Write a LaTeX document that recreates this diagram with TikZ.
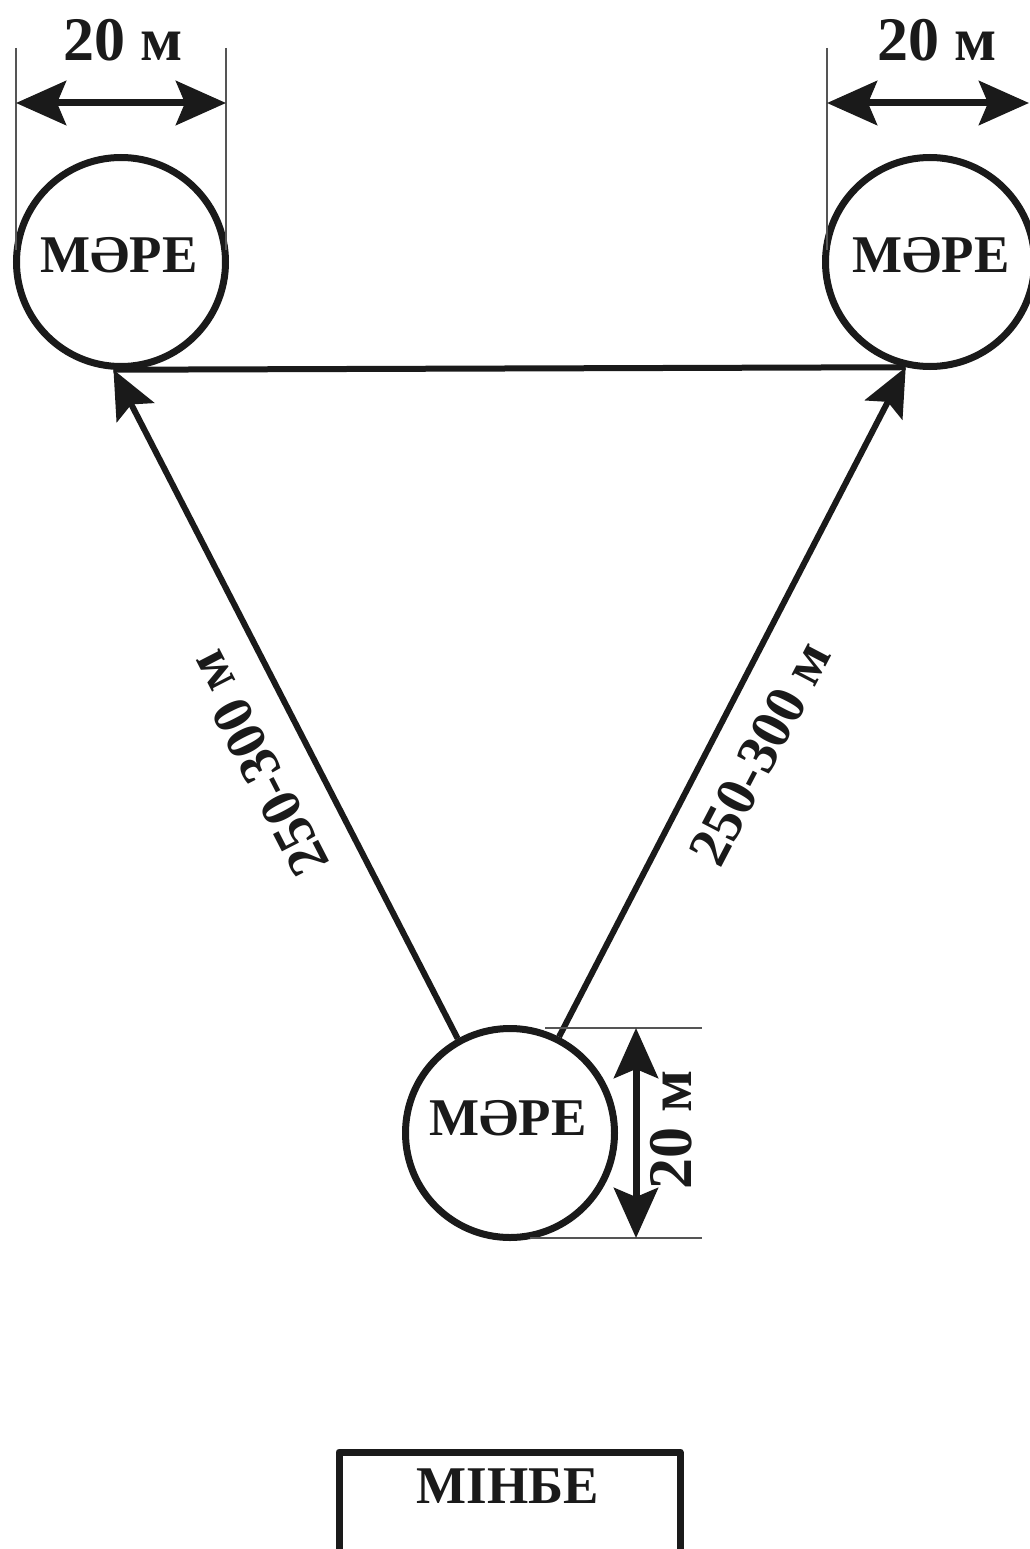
\documentclass[tikz,border=0pt]{standalone}
\usepackage{fontspec}
\setmainfont{Liberation Serif}
\usetikzlibrary{arrows.meta}
\definecolor{ink}{HTML}{1A1A1A}
\definecolor{thin}{HTML}{555555}
\tikzset{
  finishcircle/.style={circle, draw=ink, line width=7pt, minimum size=209pt, inner sep=0pt},
  circtext/.style={font=\bfseries\fontsize{53}{53}\selectfont, text=ink, inner sep=0pt},
  dimtext/.style={font=\bfseries\fontsize{62}{62}\selectfont, text=ink, inner sep=0pt},
  disttext/.style={font=\bfseries\fontsize{57}{57}\selectfont, text=ink, inner sep=0pt},
  extline/.style={draw=thin, line width=1.4pt},
  dimarrow/.style={draw=ink, line width=7pt, {Stealth[length=50pt,width=44pt,inset=9pt]}-{Stealth[length=50pt,width=44pt,inset=9pt]}},
  route/.style={draw=ink, line width=6pt},
  routearrow/.style={route, -{Stealth[length=48pt,width=42pt,inset=9pt]}},
  standbox/.style={draw=ink, line width=7pt, line join=round}
}
\begin{document}
\begin{tikzpicture}[x=1pt,y=-1pt]
\useasboundingbox (0,0) rectangle (1029,1549);

% finish circles
\node[finishcircle] (c1) at (121,262) {};
\node[finishcircle] (c2) at (930,262) {};
\node[finishcircle] (c3) at (510,1133) {};
\node[circtext] (t1) at (119,255) {МӘРЕ};
\node[circtext] (t2) at (931,255) {МӘРЕ};
\node[circtext] (t3) at (508,1118) {МӘРЕ};

% course
\draw[route] (c1.-94) -- (c2.-103);
\draw[routearrow] (c3.119) -- (c1.-94);
\draw[routearrow] (c3.63) -- (c2.-103);
\node[disttext, rotate=117.2] (d1) at (258,764) {250-300 м};
\node[disttext, rotate=62.4] (d2) at (760,753) {250-300 м};

% top-left dimension
\coordinate (a1) at (16,48);
\coordinate (a2) at (16,250);
\coordinate (a3) at (226,48);
\coordinate (a4) at (226,250);
\coordinate (a5) at (16,103);
\coordinate (a6) at (226,103);
\draw[extline] (a1) -- (a2);
\draw[extline] (a3) -- (a4);
\draw[dimarrow] (a5) -- (a6);
\node[dimtext] (w1) at (123,40) {20 м};

% top-right dimension
\coordinate (b1) at (827,48);
\coordinate (b2) at (827,250);
\coordinate (b5) at (827,103);
\coordinate (b6) at (1029,103);
\draw[extline] (b1) -- (b2);
\draw[dimarrow] (b5) -- (b6);
\node[dimtext] (w2) at (937,40) {20 м};

% bottom dimension
\coordinate (g1) at (545,1028);
\coordinate (g2) at (702,1028);
\coordinate (g3) at (530,1238);
\coordinate (g4) at (702,1238);
\coordinate (g5) at (636,1028);
\coordinate (g6) at (636,1238);
\draw[extline] (g1) -- (g2);
\draw[extline] (g3) -- (g4);
\draw[dimarrow] (g5) -- (g6);
\node[dimtext, rotate=90] (w3) at (671,1130) {20 м};

% stand
\coordinate (s1) at (339,1565);
\coordinate (s2) at (339,1452);
\coordinate (s3) at (680,1452);
\coordinate (s4) at (680,1565);
\draw[standbox] (s1) -- (s2) -- (s3) -- (s4);
\node[circtext] (st) at (508,1486) {МІНБЕ};
\end{tikzpicture}
\end{document}
